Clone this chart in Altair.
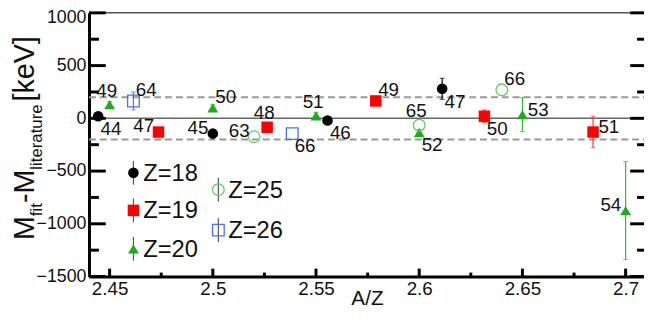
import altair as alt
import pandas as pd

# ---------------- data ----------------
Z_values = [18, 19, 20, 25, 26]
series_A = {
    18: [44, 45, 46, 47],
    19: [47, 48, 49, 50, 51],
    20: [49, 50, 51, 52, 53, 54],
    25: [63, 65, 66],
    26: [64, 66],
}
series_dm = {
    18: [20, -145, -20, 280],
    19: [-130, -85, 165, 20, -130],
    20: [130, 100, 25, -135, 35, -875],
    25: [-175, -65, 270],
    26: [165, -145],
}
series_err = {
    18: [30, 30, 30, 100],
    19: [30, 30, 30, 60, 150],
    20: [30, 30, 30, 30, 160, 465],
    25: [0, 0, 0],
    26: [85, 0],
}
# where each mass-number label sits relative to its point
series_labelpos = {
    18: ["br", "l", "br", "br"],
    19: ["l", "a", "ar", "br", "r"],
    20: ["a", "ar", "a", "br", "r", "l"],
    25: ["l", "a", "ar"],
    26: ["ar", "br"],
}
y_major = [-1500, -1000, -500, 0, 500, 1000]
y_minor = [-1250, -750, -250, 250, 750]
x_major = [2.45, 2.5, 2.55, 2.6, 2.65, 2.7]
x_minor = [2.475, 2.525, 2.575, 2.625, 2.675]
band = [-200, 200]
legend_names = ["Z=18", "Z=19", "Z=20", "Z=25", "Z=26"]

# ---------------- layout / style ----------------
FONT = "Liberation Sans"
W, H = 562, 267
PX_PER_UNIT_X = 2090.0
XDOM = [2.44, 2.44 + W / PX_PER_UNIT_X]
YDOM = [-1500, 1000]
xs = alt.Scale(domain=XDOM, nice=False, zero=False)
ys = alt.Scale(domain=YDOM, nice=False, zero=False)

xaxis = alt.Axis(values=x_major, format=".2~f", ticks=False, tickSize=0,
                 grid=False, domainColor="#000000", domainWidth=3,
                 labelFont=FONT, labelFontSize=19, labelColor="#111111",
                 labelPadding=3, labelFlush=False, title=None)
yaxis = alt.Axis(values=y_major, format="d", ticks=False, tickSize=0,
                 grid=False, domainColor="#000000", domainWidth=3,
                 labelFont=FONT, labelFontSize=18, labelColor="#111111",
                 labelPadding=3, labelFlush=False, title=None,
                 labelOffset={"condition": {"test": "datum.value == 1000", "value": 5},
                              "value": 0})


def X(field):
    return alt.X(field, scale=xs, axis=xaxis, title=None)


def Y(field):
    return alt.Y(field, scale=ys, axis=yaxis, title=None)


style = {
    18: dict(shape="circle", filled=True, color="#000000", size=115, err="#000000"),
    19: dict(shape="square", filled=True, color="#ff0000", size=135, err="#ff3333"),
    20: dict(shape="triangle-up", filled=True, color="#1faa1f", size=120, err="#33bb33"),
    25: dict(shape="circle", filled=False, color="#66cc66", size=140, err="#66cc66"),
    26: dict(shape="square", filled=False, color="#4a6cff", size=140, err="#4a6cff"),
}
label_offsets = {
    "br": (13, 13),
    "l": (-15, -6),
    "a": (-3, -14),
    "ar": (13, -11),
    "r": (16, -5),
}

rows = []
for z in Z_values:
    for a, dm, e, p in zip(series_A[z], series_dm[z], series_err[z], series_labelpos[z]):
        rows.append(dict(Z=z, A=a, AZ=a / z, dm=dm, err=e, lo=dm - e, hi=dm + e,
                         label=str(a), pos=p))
df = pd.DataFrame(rows)

layers = []

# base layer carrying the axes (invisible points)
base = alt.Chart(pd.DataFrame({"AZ": [2.5], "dm": [0]})).mark_point(opacity=0).encode(
    x=X("AZ:Q"), y=Y("dm:Q"))
layers.append(base)

# top frame line
layers.append(alt.Chart(pd.DataFrame({"dm": [YDOM[1]]})).mark_rule(
    color="#555555", strokeWidth=1.5).encode(
    y=Y("dm:Q"), x=alt.value(0), x2=alt.value(W)))

# reference lines
layers.append(alt.Chart(pd.DataFrame({"dm": [0]})).mark_rule(
    color="#666666", strokeWidth=1.5).encode(
    y=Y("dm:Q"), x=alt.value(0), x2=alt.value(W)))
layers.append(alt.Chart(pd.DataFrame({"dm": band})).mark_rule(
    color="#999999", strokeWidth=2, strokeDash=[7, 4]).encode(
    y=Y("dm:Q"), x=alt.value(0), x2=alt.value(W)))


# inward ticks
def yticks(vals, x0, x1):
    return alt.Chart(pd.DataFrame({"dm": vals})).mark_rule(
        color="#000000", strokeWidth=3).encode(
        y=Y("dm:Q"), x=alt.value(x0), x2=alt.value(x1))


def xticks(vals, length):
    return alt.Chart(pd.DataFrame({"AZ": vals})).mark_rule(
        color="#000000", strokeWidth=3).encode(
        x=X("AZ:Q"), y=alt.value(H), y2=alt.value(H - length))


layers += [yticks(y_major, 0, 17), yticks(y_minor, 0, 10),
           yticks(y_major, W - 14, W), yticks(y_minor, W - 7, W),
           xticks(x_major, 8), xticks(x_minor, 4)]

# error bars + markers
for z in Z_values:
    s = style[z]
    d = df[df.Z == z]
    ch = alt.Chart(d)
    de = d[d.err > 0]
    if len(de):
        che = alt.Chart(de)
        layers.append(che.mark_rule(color=s["err"], strokeWidth=1.2).encode(
            x=X("AZ:Q"), y=Y("lo:Q"), y2="hi:Q"))
        for f in ["lo", "hi"]:
            layers.append(che.mark_tick(color=s["err"], size=5, thickness=1,
                                        orient="horizontal").encode(
                x=X("AZ:Q"), y=Y(f + ":Q")))
    if s["filled"]:
        mk = ch.mark_point(shape=s["shape"], filled=True, color=s["color"],
                           size=s["size"], opacity=1)
    else:
        mk = ch.mark_point(shape=s["shape"], filled=False, color=s["color"],
                           size=s["size"], strokeWidth=1.3, opacity=1)
    layers.append(mk.encode(x=X("AZ:Q"), y=Y("dm:Q")))

# mass-number labels
for p, (dx, dy) in label_offsets.items():
    layers.append(alt.Chart(df[df.pos == p]).mark_text(
        font=FONT, fontSize=19, color="#111111", dx=dx, dy=dy,
        align="center", baseline="middle").encode(
        x=X("AZ:Q"), y=Y("dm:Q"), text="label:N"))

# legend (drawn by hand: two columns)
legend_pos = [(45, 162), (45, 200), (45, 239), (131, 179), (131, 220)]
one = pd.DataFrame({"k": [0]})
for z, name, (lx, ly) in zip(Z_values, legend_names, legend_pos):
    s = style[z]
    layers.append(alt.Chart(one).mark_rule(color="#555555", strokeWidth=1.2).encode(
        x=alt.value(lx), y=alt.value(ly - 12), y2=alt.value(ly + 12)))
    if s["filled"]:
        mk = alt.Chart(one).mark_point(shape=s["shape"], filled=True, color=s["color"],
                                       size=s["size"], opacity=1)
    else:
        mk = alt.Chart(one).mark_point(shape=s["shape"], filled=False, color=s["color"],
                                       size=s["size"], strokeWidth=1.3, opacity=1)
    layers.append(mk.encode(x=alt.value(lx), y=alt.value(ly)))
    layers.append(alt.Chart(one).mark_text(
        font=FONT, fontSize=24, color="#111111", align="left", baseline="middle",
        text=name).encode(x=alt.value(lx + 10), y=alt.value(ly + 1)))

# x-axis title
layers.append(alt.Chart(one).mark_text(
    font=FONT, fontSize=21, color="#111111", align="center", baseline="middle",
    text="A/Z").encode(x=alt.value(282), y=alt.value(290)))

# y-axis title with subscripts
EM = {"M": 0.833, "f": 0.278, "i": 0.222, "t": 0.278, "-": 0.333, "l": 0.222,
      "e": 0.556, "r": 0.333, "a": 0.556, "u": 0.556, " ": 0.278, "[": 0.278,
      "k": 0.5, "V": 0.667, "]": 0.278}
pieces = [("M", 29, -56), ("fit", 17, -48), ("-M", 29, -56),
          ("literature", 17, -48), (" [keV]", 29, -56)]
ycur = 230.0
for txt, fs, bx in pieces:
    layers.append(alt.Chart(one).mark_text(
        font=FONT, fontSize=fs, color="#111111", align="left", baseline="alphabetic",
        angle=270, text=txt).encode(x=alt.value(bx), y=alt.value(ycur)))
    ycur -= sum(EM[c] for c in txt) * fs + (3 if txt == "literature" else 0)

chart = alt.layer(*layers).properties(
    width=W, height=H,
    autosize=alt.AutoSizeParams(type="none"),
    padding={"left": 82, "top": 3, "right": 0, "bottom": 35},
    background="white",
).configure_view(stroke="transparent")

chart.save("out.html", embed_options={"renderer": "svg", "actions": False})
